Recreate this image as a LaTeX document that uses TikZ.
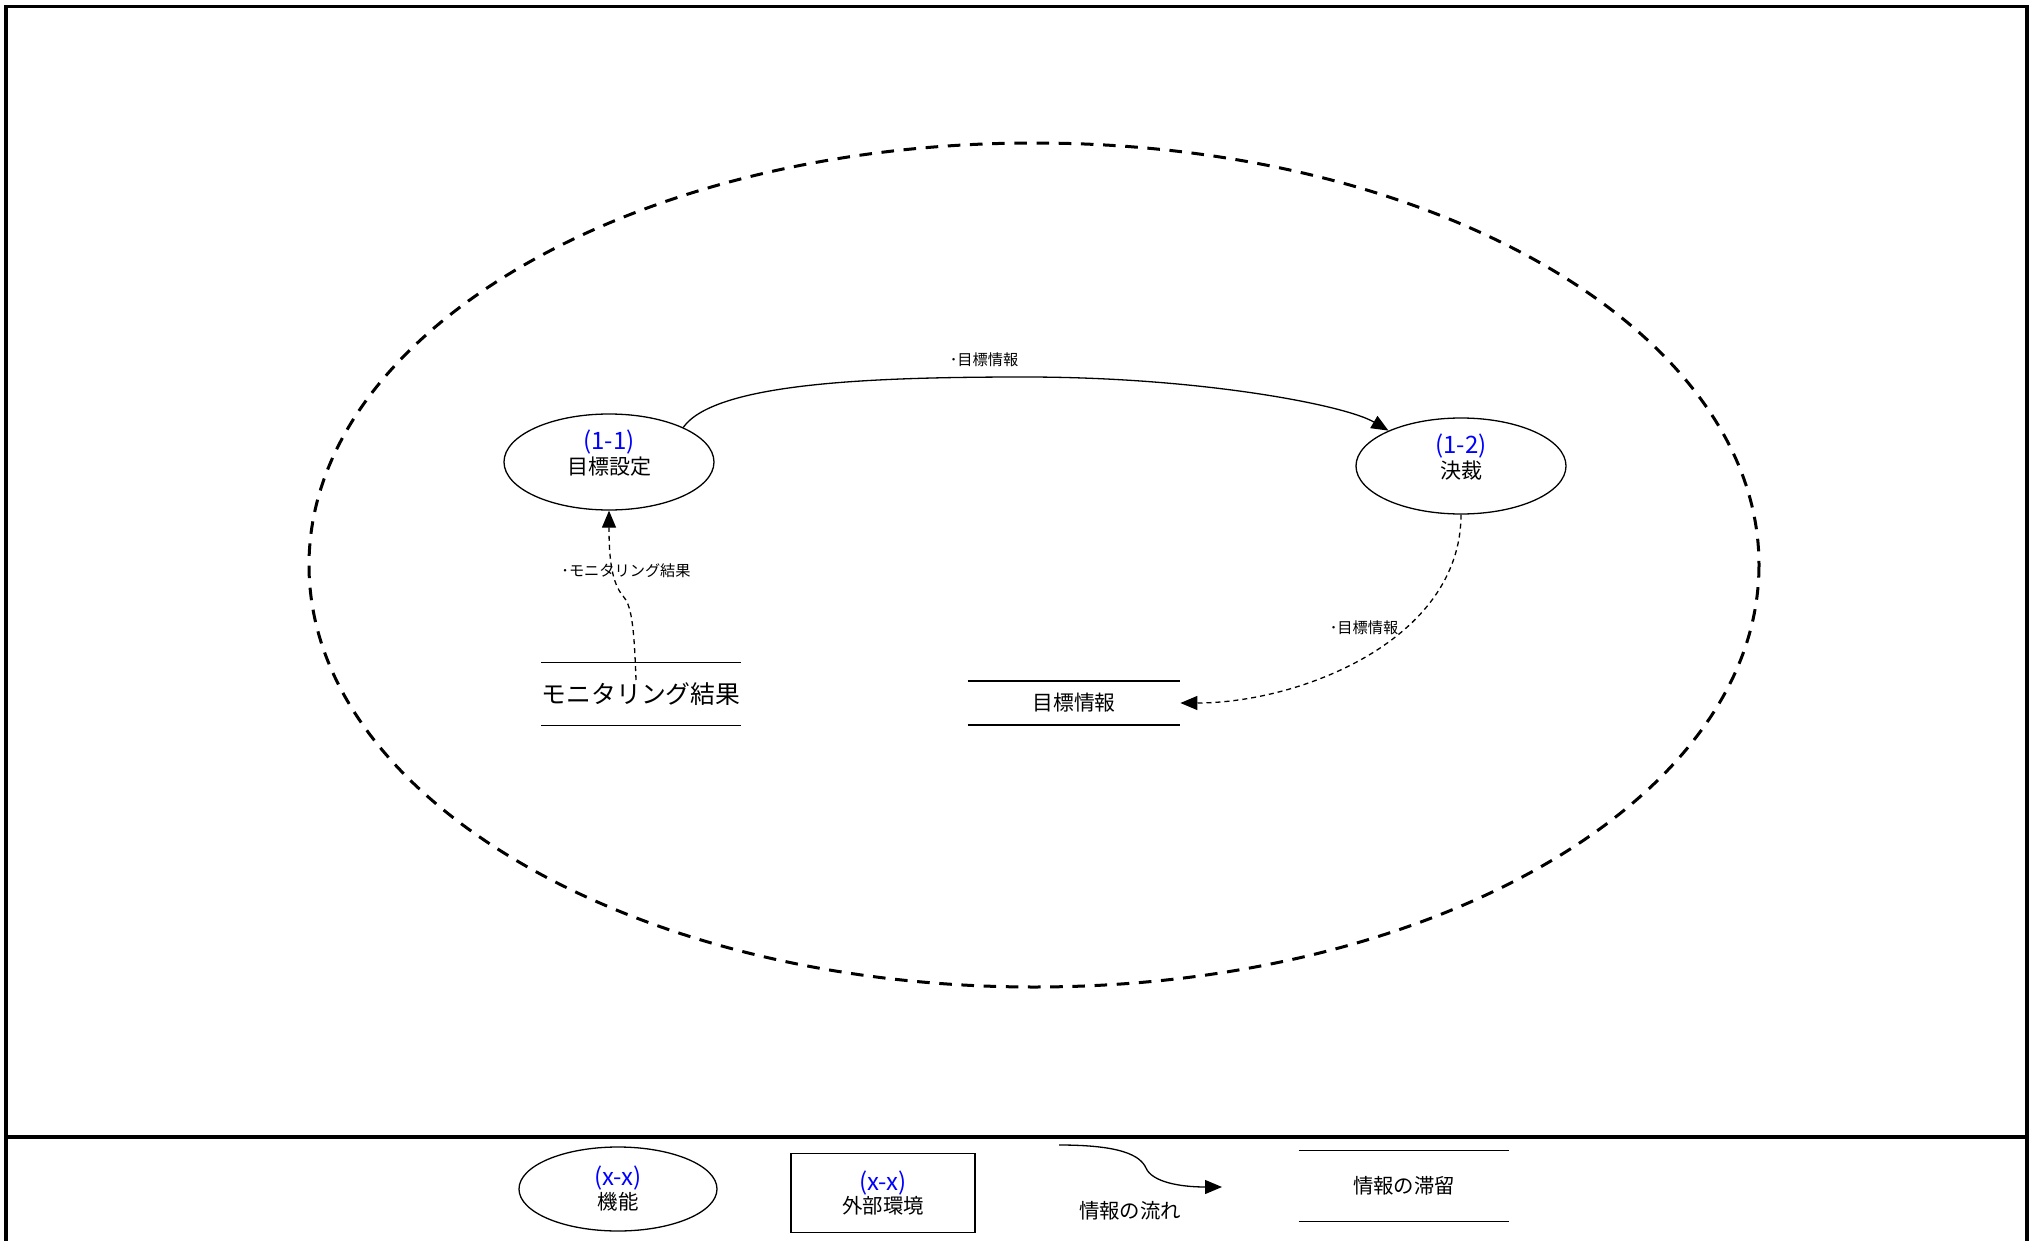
\documentclass[tikz,border=0pt]{standalone}
\usepackage{fontspec}
\setmainfont{Noto Sans CJK JP}
\usepackage{xcolor}
\usetikzlibrary{arrows.meta, positioning, shapes.geometric}
\definecolor{idblue}{RGB}{0,0,255}
\newcommand{\funcid}[1]{{\fontsize{12}{12}\selectfont\textcolor{idblue}{#1}}}

\begin{document}
\begin{tikzpicture}[x=0.5pt, y=-0.5pt,
    func/.style={ellipse, draw, line width=0.65pt, minimum width=105pt, minimum height=48pt,
        inner sep=0pt, align=center, font=\fontsize{10.5}{12.5}\selectfont},
    store/.style={minimum height=31pt, inner sep=0pt},
    flow/.style={line width=0.65pt, -{Triangle[length=8.5pt, width=7pt]}},
    dflow/.style={flow, dash pattern=on 2.5pt off 2pt},
    flowlbl/.style={font=\fontsize{7.6}{9}\selectfont, inner sep=0pt}]
    \useasboundingbox (0,0) rectangle (2035,1241);

    % Frame
    \draw[line width=1.65pt] (6,1241) -- (6,6.5) -- (2027,6.5) -- (2027,1241);
    \draw[line width=1.65pt] (6,1137) -- (2027,1137);

    % System boundary
    \draw[line width=1.5pt, dash pattern=on 6.3pt off 4.8pt] (1034,565) ellipse [x radius=725, y radius=422];

    % Functions
    \node[func, text depth=10pt] (goal) at (609,462) {\funcid{(1-1)}\\目標設定};
    \node[func, text depth=10pt] (decide) at (1461,466) {\funcid{(1-2)}\\決裁};

    % Stores
    \node[store, minimum width=99pt, font=\fontsize{12.4}{14}\selectfont] (monres) at (641,694) {モニタリング結果};
    \draw[line width=0.65pt] (monres.north west) -- (monres.north east) (monres.south west) -- (monres.south east);
    \node[store, minimum width=106pt, minimum height=21.5pt, font=\fontsize{10.4}{12}\selectfont] (target) at (1074,703) {目標情報};
    \draw[line width=0.65pt] (target.north west) -- (target.north east) (target.south west) -- (target.south east);

    % Flows
    \draw[flow] (goal.25) .. controls (715,383) and (870,377) .. (1025,377)
        .. controls (1200,377) and (1345,405) .. (decide.154);
    \node[flowlbl] (lbltop) at (984,360) {･目標情報};

    \draw[dflow] (decide.south) .. controls (1461,640) and (1300,703) .. (target.east);
    \node[flowlbl] (lblright) at (1364,628) {･目標情報};

    \coordinate (monsrc) at (636,680);
    \draw[dflow] (monsrc) .. controls (634,622) and (631,605) .. (623,596)
        .. controls (612,583) and (609,560) .. (goal.south);
    \node[flowlbl] (lblleft) at (626,571) {･モニタリング結果};

    % Legend
    \node[func, minimum width=99pt, minimum height=42pt, font=\fontsize{10.2}{12}\selectfont] (lgfunc) at (618,1189) {\funcid{(x-x)}\\機能};
    \node[draw, line width=0.65pt, minimum width=92pt, minimum height=39.5pt, inner sep=0pt, align=center,
        font=\fontsize{10.2}{12}\selectfont] (lgext) at (883,1193) {\funcid{(x-x)}\\外部環境};
    \coordinate (lgfrom) at (1059,1145);
    \coordinate (lgto) at (1222,1187);
    \draw[flow] (lgfrom) .. controls (1120,1145) and (1140,1155) .. (1146,1168)
        .. controls (1152,1182) and (1180,1187) .. (lgto);
    \node[font=\fontsize{10.2}{12}\selectfont] (lgflowtxt) at (1130,1211) {情報の流れ};
    \node[store, minimum width=105pt, minimum height=35pt, font=\fontsize{10.2}{12}\selectfont] (lgstore) at (1404,1186) {情報の滞留};
    \draw[line width=0.65pt] (lgstore.north west) -- (lgstore.north east) (lgstore.south west) -- (lgstore.south east);
\end{tikzpicture}
\end{document}
